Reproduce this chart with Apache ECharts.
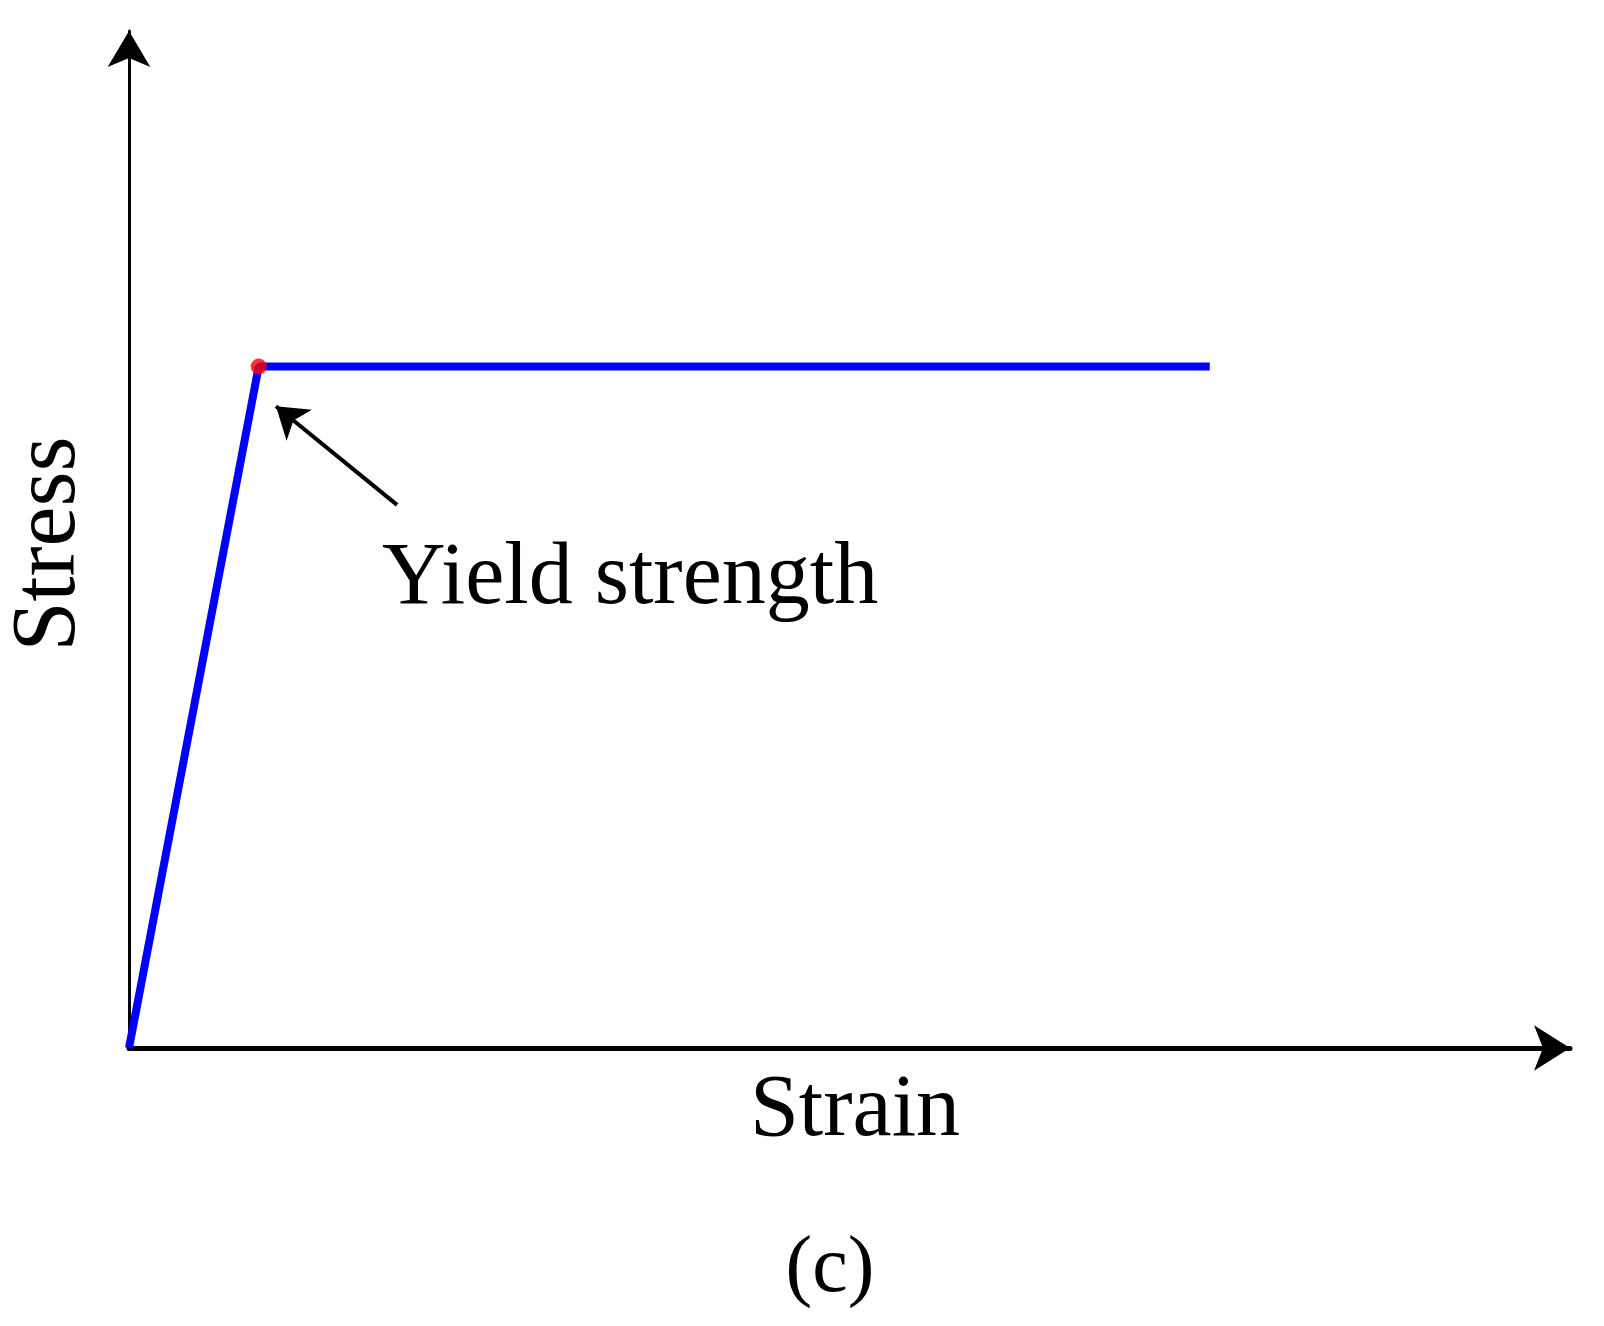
<!DOCTYPE html><html><head><meta charset="utf-8"><script src="https://cdn.jsdelivr.net/npm/echarts@6/dist/echarts.min.js"></script>
<style>html,body{margin:0;padding:0;background:#fff}#c{width:1604px;height:1326px}</style></head><body><div id="c"></div><script>
const strain=[0,0.09,0.75];
const stress=[0,0.67,0.67];
const yieldPt=[0.09,0.67];
const arrowFrom=[0.186,0.534], arrowTo=[0.102,0.631];
const F='"Liberation Serif","DejaVu Serif",serif';
const ch=echarts.init(document.getElementById('c'));
ch.setOption({
 animation:false,
 grid:{left:129,right:34,top:31,bottom:278},
 xAxis:{type:'value',min:0,max:1,axisLine:{lineStyle:{color:'#000',width:5},symbol:['none','arrow'],symbolSize:[34,36]},axisTick:{show:false},axisLabel:{show:false},splitLine:{show:false}},
 yAxis:{type:'value',min:0,max:1,axisLine:{show:true,lineStyle:{color:'#000',width:3},symbol:['none','arrow'],symbolSize:[32,36]},axisTick:{show:false},axisLabel:{show:false},splitLine:{show:false}},
 series:[
  {type:'line',data:strain.map((x,i)=>[x,stress[i]]),symbol:'none',lineStyle:{color:'#0000ff',width:8},
   markLine:{silent:true,symbol:['none','arrow'],symbolSize:30,label:{show:false},lineStyle:{color:'#000',width:4,type:'solid'},
     data:[[{coord:arrowFrom},{coord:arrowTo}]]}},
  {type:'scatter',data:[yieldPt],symbolSize:16,itemStyle:{color:'#ff0000'},z:5}
 ],
 graphic:[
  {type:'text',x:50,y:544,rotation:Math.PI/2,style:{text:'Stress',font:'90px '+F,fill:'#000',textAlign:'center',textVerticalAlign:'middle'}},
  {type:'text',x:382,y:580,style:{text:'Yield strength',font:'88px '+F,fill:'#000',textAlign:'left',textVerticalAlign:'middle'}},
  {type:'text',x:855,y:1112,style:{text:'Strain',font:'88px '+F,fill:'#000',textAlign:'center',textVerticalAlign:'middle'}},
  {type:'text',x:830,y:1270,style:{text:'(c)',font:'80px '+F,fill:'#000',textAlign:'center',textVerticalAlign:'middle'}}
 ]
});
</script></body></html>
